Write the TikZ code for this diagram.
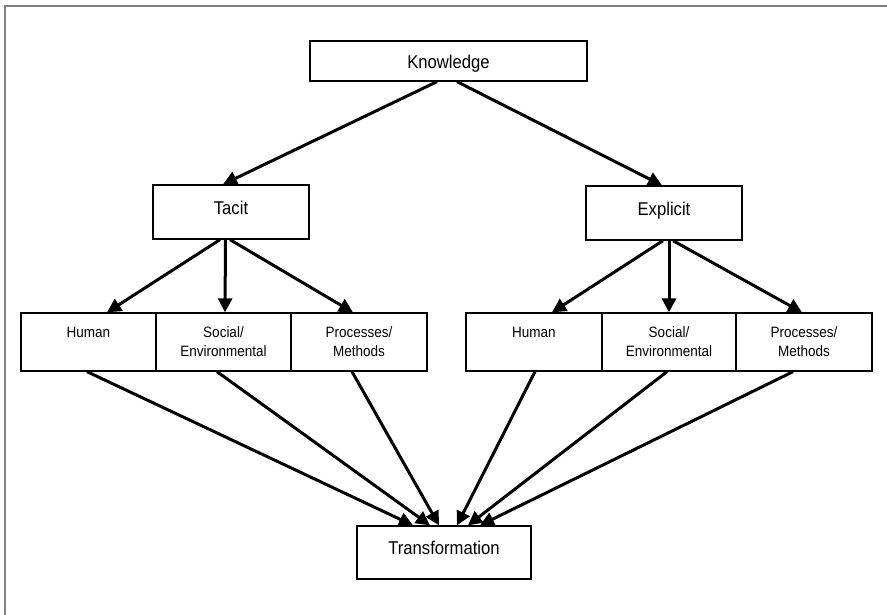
\documentclass[tikz,border=0pt]{standalone}
\usepackage{fontspec}
\setmainfont{Liberation Sans}[FakeStretch=0.9]
\usetikzlibrary{arrows.meta}
\begin{document}
\begin{tikzpicture}[x=1pt,y=-1pt,
  box/.style={draw=black, line width=1.3pt, inner sep=0pt},
  big/.style={font=\fontsize{18.5}{22}\selectfont, inner sep=0pt, anchor=base},
  small/.style={font=\fontsize{15}{19}\selectfont, inner sep=0pt, anchor=base, align=center},
  link/.style={line width=3pt, -{Triangle[length=14pt,width=14pt]}},
  frameline/.style={draw=black!50, line width=2.5pt}
]
\useasboundingbox (0,0) rectangle (887,614);

% outer frame (left and top edges)
\coordinate (fbl) at (5,616);
\coordinate (ftl) at (5,6);
\coordinate (ftr) at (889,6);
\draw[frameline] (fbl) -- (ftl) -- (ftr);

% top level
\node[box, minimum width=277, minimum height=40] (know) at (448.5,61) {};
\node[big] (knowT) at (448.5,68) {Knowledge};

% second level
\node[box, minimum width=156, minimum height=54] (tacit) at (231,212) {};
\node[big] (tacitT) at (231,214) {Tacit};
\node[box, minimum width=156, minimum height=54] (expl) at (664,213) {};
\node[big] (explT) at (664,215) {Explicit};

% third level, tacit side (two-line labels sit on their last baseline)
\node[box, minimum width=135, minimum height=58] (hL) at (88.5,342) {};
\node[box, minimum width=135, minimum height=58] (sL) at (223.5,342) {};
\node[box, minimum width=136, minimum height=58] (pL) at (359,342) {};
\node[small] (hLT) at (88.5,337) {Human};
\node[small] (sLT) at (223.5,356) {Social/\\Environmental};
\node[small] (pLT) at (359,356) {Processes/\\Methods};

% third level, explicit side
\node[box, minimum width=136, minimum height=58] (hR) at (534,342) {};
\node[box, minimum width=134, minimum height=58] (sR) at (669,342) {};
\node[box, minimum width=136, minimum height=58] (pR) at (804,342) {};
\node[small] (hRT) at (534,337) {Human};
\node[small] (sRT) at (669,356) {Social/\\Environmental};
\node[small] (pRT) at (804,356) {Processes/\\Methods};

% bottom
\node[box, minimum width=174, minimum height=53] (trans) at (444,552.5) {};
\node[big] (transT) at (444,554) {Transformation};

% connectors
\draw[link] ([xshift=-11.5pt]know.south) -- ([xshift=-8pt]tacit.north);
\draw[link] ([xshift=8.5pt]know.south) -- ([xshift=-2pt]expl.north);

\draw[link] ([xshift=-11pt]tacit.south) -- ([xshift=18.5pt]hL.north);
\draw[link] ([xshift=-5.5pt]tacit.south) -- ([xshift=1.5pt]sL.north);
\draw[link] ([xshift=-1pt]tacit.south) -- ([xshift=-6pt]pL.north);

\draw[link] ([xshift=-1pt]expl.south) -- ([xshift=18pt]hR.north);
\draw[link] ([xshift=5pt]expl.south) -- ([xshift=0pt]sR.north);
\draw[link] ([xshift=9pt]expl.south) -- ([xshift=-2pt]pR.north);

\draw[link] ([xshift=-1.5pt]hL.south) -- ([xshift=-31pt]trans.north);
\draw[link] ([xshift=-6.5pt]sL.south) -- ([xshift=-14pt]trans.north);
\draw[link] ([xshift=-7pt]pL.south) -- ([xshift=-5pt]trans.north);
\draw[link] ([xshift=1pt]hR.south) -- ([xshift=13pt]trans.north);
\draw[link] ([xshift=-2pt]sR.south) -- ([xshift=24pt]trans.north);
\draw[link] ([xshift=-11pt]pR.south) -- ([xshift=36pt]trans.north);
\end{tikzpicture}
\end{document}
